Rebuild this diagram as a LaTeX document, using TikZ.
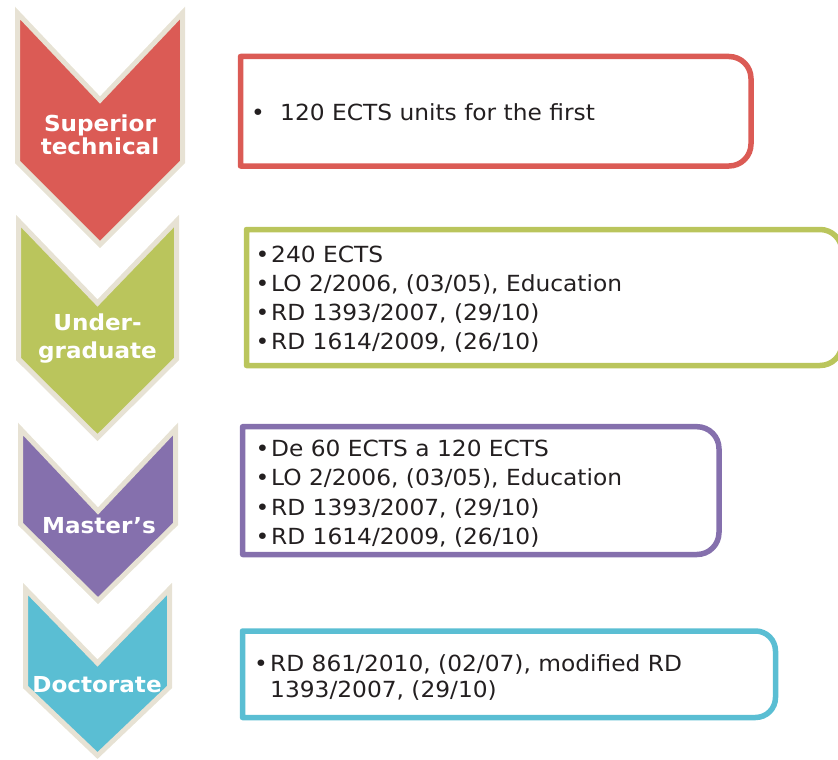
\documentclass[tikz,border=0pt]{standalone}
\usepackage{fontspec}
\setmainfont[FakeStretch=1.05]{DejaVu Sans}
\definecolor{cred}{HTML}{DB5B55}
\definecolor{cgreen}{HTML}{BAC55C}
\definecolor{cpurple}{HTML}{8570AD}
\definecolor{ccyan}{HTML}{5ABED3}
\definecolor{beige}{HTML}{E7E2D4}
\definecolor{textc}{HTML}{231F20}
\begin{document}
\begin{tikzpicture}[x=1pt,y=-1pt,
  chev/.style={line width=5pt, draw=beige, line join=miter},
  frame/.style={line width=5.5pt, line join=round},
  lbl/.style={font=\bfseries\fontsize{22}{25}\selectfont, text=white, inner sep=0pt, anchor=base},
  txt/.style={font=\fontsize{22.2}{27}\selectfont, text=textc, inner sep=0pt, anchor=base west},
  bul/.style={font=\fontsize{22.2}{27}\selectfont, text=textc, inner sep=0pt, anchor=base}]
\useasboundingbox (0,0) rectangle (838,760);
\clip (0,0) rectangle (838,760);

% chevrons
\draw[chev, fill=cred] (17.5,13) -- (100,100) -- (182.5,13) -- (182.5,162) -- (100,244.5) -- (17.5,162) -- cycle;
\draw[chev, fill=cgreen] (18.5,221) -- (97.5,303) -- (176.5,221) -- (176.5,359) -- (97.5,437.5) -- (18.5,359) -- cycle;
\draw[chev, fill=cpurple] (20.5,429) -- (98,511) -- (175.5,429) -- (175.5,524) -- (98,600.5) -- (20.5,524) -- cycle;
\draw[chev, fill=ccyan] (25.5,589) -- (97.5,663) -- (169.5,589) -- (169.5,687) -- (97.5,755.5) -- (25.5,687) -- cycle;

% chevron labels
\node[lbl] (sup1) at (100,131) {Superior};
\node[lbl] (sup2) at (100,154) {technical};
\node[lbl] (und1) at (97.5,330) {Under-};
\node[lbl] (und2) at (97.5,358) {graduate};
\node[lbl] (mas) at (99,533) {Master’s};
\node[lbl] (doc) at (97,692) {Doctorate};

% frames
\draw[frame, draw=cred] (240.5,166) -- (240.5,56.5) -- (729,56.5) arc[start angle=-90,end angle=0,radius=22] -- (751,144) arc[start angle=0,end angle=90,radius=22] -- cycle;
\draw[frame, draw=cgreen] (246.5,365.5) -- (246.5,229.5) -- (820,229.5) arc[start angle=-90,end angle=0,radius=22] -- (842,343.5) arc[start angle=0,end angle=90,radius=22] -- cycle;
\draw[frame, draw=cpurple] (242.6,554.5) -- (242.6,426.7) -- (697,426.7) arc[start angle=-90,end angle=0,radius=22] -- (719,532.5) arc[start angle=0,end angle=90,radius=22] -- cycle;
\draw[frame, draw=ccyan] (242.5,717.5) -- (242.5,631) -- (755.5,631) arc[start angle=-90,end angle=0,radius=20] -- (775.5,697.5) arc[start angle=0,end angle=90,radius=20] -- cycle;

% box 1
\node[bul] (b1a) at (258,121) {•};
\node[txt] (t1a) at (280,121) {120 ECTS units for the first};

% box 2
\node[bul] (b2a) at (262.5,262) {•};
\node[txt] (t2a) at (271,262) {240 ECTS};
\node[bul] (b2b) at (262.5,291) {•};
\node[txt] (t2b) at (271,291) {LO 2/2006, (03/05), Education};
\node[bul] (b2c) at (262.5,320) {•};
\node[txt] (t2c) at (271,320) {RD 1393/2007, (29/10)};
\node[bul] (b2d) at (262.5,349) {•};
\node[txt] (t2d) at (271,349) {RD 1614/2009, (26/10)};

% box 3
\node[bul] (b3a) at (262.5,456) {•};
\node[txt] (t3a) at (271,456) {De 60 ECTS a 120 ECTS};
\node[bul] (b3b) at (262.5,485.5) {•};
\node[txt] (t3b) at (271,485.5) {LO 2/2006, (03/05), Education};
\node[bul] (b3c) at (262.5,515) {•};
\node[txt] (t3c) at (271,515) {RD 1393/2007, (29/10)};
\node[bul] (b3d) at (262.5,544.5) {•};
\node[txt] (t3d) at (271,544.5) {RD 1614/2009, (26/10)};

% box 4
\node[bul] (b4a) at (261,671) {•};
\node[txt] (t4a) at (270,671) {RD 861/2010, (02/07), modified RD};
\node[txt] (t4b) at (270,697) {1393/2007, (29/10)};
\end{tikzpicture}
\end{document}
